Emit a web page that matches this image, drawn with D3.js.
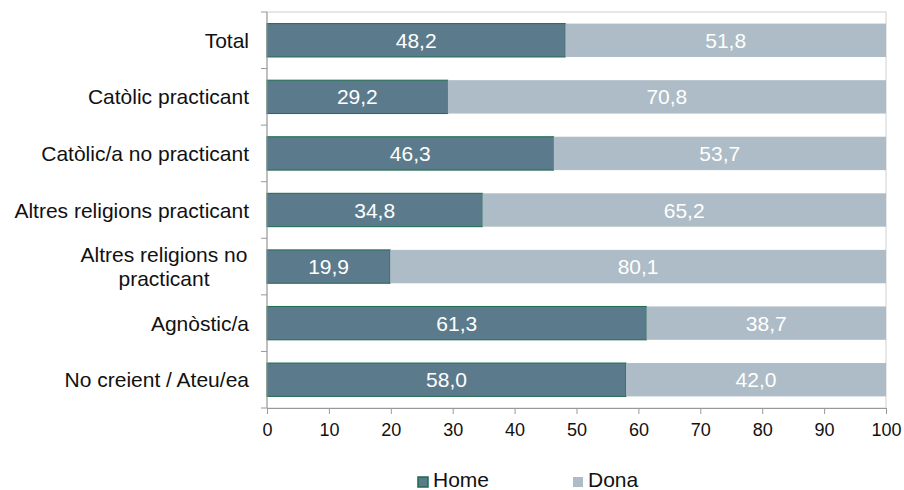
<!DOCTYPE html>
<html>
<head>
<meta charset="utf-8">
<script src="https://cdn.jsdelivr.net/npm/d3@7"></script>
<style>
  body { margin: 0; background: #fff; }
  svg { font-family: "Liberation Sans", Arial, sans-serif; }
</style>
</head>
<body>
<div id="chart"></div>
<script>
// data
const categories = ["Total", "Catòlic practicant", "Catòlic/a no practicant",
    "Altres religions practicant", "Altres religions no practicant",
    "Agnòstic/a", "No creient / Ateu/ea"];
const home = [48.2, 29.2, 46.3, 34.8, 19.9, 61.3, 58.0];
const dona = [51.8, 70.8, 53.7, 65.2, 80.1, 38.7, 42.0];
const seriesNames = ["Home", "Dona"];
const xTicks = [0, 10, 20, 30, 40, 50, 60, 70, 80, 90, 100];

const width = 904, height = 490,
    margin = ({top: 12, right: 18, bottom: 82, left: 267});

const svg = d3.select("#chart").append("svg")
    .attr("width", width).attr("height", height);

const x = d3.scaleLinear().domain([0, 100])
    .range([margin.left, width - margin.right]);

const y = d3.scaleBand().domain(categories)
    .range([margin.top, height - margin.bottom])
    .paddingInner(0.41).paddingOuter(0.205);

// border of plot area
svg.append("rect")
    .attr("x", x(0)).attr("y", margin.top)
    .attr("width", x(100) - x(0)).attr("height", height - margin.bottom - margin.top)
    .attr("fill", "none").attr("stroke", "#d0d0d0");

const rows = categories.map((c, i) => ({cat: c, home: home[i], dona: dona[i]}));

const g = svg.selectAll(".row").data(rows).join("g").attr("class", "row");

g.append("rect")
    .attr("x", x(0))
    .attr("y", d => y(d.cat))
    .attr("width", d => x(d.home) - x(0))
    .attr("height", y.bandwidth())
    .attr("fill", "#5b7b8c")
    .attr("stroke", "#1d6b4c").attr("stroke-width", 1);

g.append("rect")
    .attr("x", d => x(d.home))
    .attr("y", d => y(d.cat))
    .attr("width", d => x(100) - x(d.home))
    .attr("height", y.bandwidth())
    .attr("fill", "#adbcc6");

const fmt = v => v.toFixed(1).replace(".", ",");

g.append("text")
    .attr("x", d => (x(0) + x(d.home)) / 2)
    .attr("y", d => y(d.cat) + y.bandwidth() / 2)
    .attr("dy", "0.36em").attr("text-anchor", "middle")
    .attr("fill", "#fff").attr("font-size", 21)
    .text(d => fmt(d.home));

g.append("text")
    .attr("x", d => (x(d.home) + x(100)) / 2)
    .attr("y", d => y(d.cat) + y.bandwidth() / 2)
    .attr("dy", "0.36em").attr("text-anchor", "middle")
    .attr("fill", "#fff").attr("font-size", 21)
    .text(d => fmt(d.dona));

// y axis with ticks at category boundaries
const yb = height - margin.bottom;
const step = y.step();
const yAxisG = svg.append("g");
yAxisG.append("line")
    .attr("x1", x(0)).attr("x2", x(0))
    .attr("y1", margin.top).attr("y2", yb)
    .attr("stroke", "#999");
d3.range(categories.length + 1).forEach(i => {
    const yy = margin.top + i * step;
    yAxisG.append("line")
        .attr("x1", x(0) - 6).attr("x2", x(0))
        .attr("y1", yy).attr("y2", yy).attr("stroke", "#999");
});

// category labels (the long one is wrapped on two centred lines)
const labelLines = {"Altres religions no practicant": ["Altres religions no", "practicant"]};
categories.forEach(c => {
    const lines = labelLines[c] || [c];
    const t = svg.append("text")
        .attr("font-size", 21).attr("fill", "#111")
        .attr("text-anchor", lines.length > 1 ? "middle" : "end");
    const cy = y(c) + y.bandwidth() / 2;
    lines.forEach((l, j) => {
        t.append("tspan")
            .attr("x", lines.length > 1 ? 164 : 249)
            .attr("y", cy + (j - (lines.length - 1) / 2) * 24)
            .attr("dy", "0.36em")
            .text(l);
    });
});

// x axis
const xAxis = svg.append("g")
    .attr("transform", `translate(0,${yb})`)
    .call(d3.axisBottom(x).tickValues(xTicks).tickSize(6).tickSizeOuter(0).tickPadding(9));
xAxis.select(".domain").attr("stroke", "#999");
xAxis.selectAll(".tick line").attr("stroke", "#999");
xAxis.selectAll(".tick text").attr("font-size", 18).attr("fill", "#111")
    .attr("font-family", "Liberation Sans, Arial, sans-serif");

// legend (sits right at the bottom edge, as in the original)
const legend = svg.append("g");
const legendItems = [
    {name: seriesNames[0], x: 418, fill: "#5b7b8c", stroke: "#1d6b4c"},
    {name: seriesNames[1], x: 573, fill: "#adbcc6", stroke: "none"}
];
legendItems.forEach(d => {
    legend.append("rect")
        .attr("x", d.x).attr("y", 477)
        .attr("width", 10).attr("height", 10)
        .attr("fill", d.fill).attr("stroke", d.stroke).attr("stroke-width", 1.5);
    legend.append("text")
        .attr("x", d.x + 15).attr("y", 487)
        .attr("font-size", 21).attr("fill", "#111")
        .text(d.name);
});
</script>
</body>
</html>
